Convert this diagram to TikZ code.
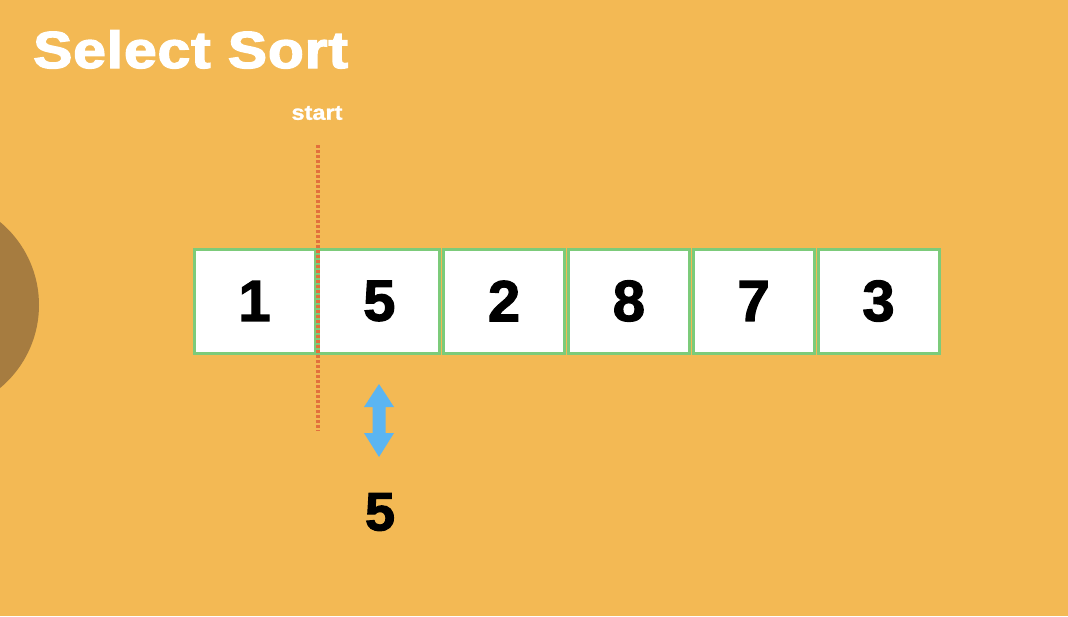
\documentclass[tikz,border=0pt]{standalone}
\usepackage{fontspec}
\usepackage{graphicx}
\setmainfont{Liberation Sans}
\newfontfamily\heavyfont[FakeBold=2]{Liberation Sans Bold}
\newfontfamily\titlefont[FakeBold=2.5,LetterSpace=1.5]{Liberation Sans Bold}
\newfontfamily\semiheavyfont[FakeBold=1.2]{Liberation Sans Bold}
\definecolor{bg}{HTML}{F3B954}
\definecolor{boxgreen}{HTML}{7CCB7A}
\definecolor{dotred}{HTML}{E2703C}
\definecolor{arrowblue}{HTML}{5BB5F2}
\definecolor{blob}{HTML}{A67C40}
\tikzset{
  cell/.style={draw=boxgreen, line width=3pt, fill=white, minimum width=121pt, minimum height=104pt, inner sep=0pt, font=\fontsize{58}{58}\heavyfont},
  titletext/.style={text=white, font=\fontsize{52}{52}\titlefont, inner sep=0pt, anchor=base west},
  smalllabel/.style={text=white, font=\fontsize{21}{21}\semiheavyfont, inner sep=0pt},
}
\begin{document}
\begin{tikzpicture}[x=1pt,y=-1pt]
\useasboundingbox (0,0) rectangle (1068,616);
\fill[bg] (0,0) rectangle (1068,616);
\begin{scope}
\clip (0,0) rectangle (1068,616);
\fill[blob] (-69,305) circle (108);
\end{scope}
\node[titletext] (title) at (33,68) {\scalebox{1.13}[1]{Select Sort}};
\node[cell] (c1) at (254.5,301) {1};
\node[cell] (c2) at (379.3,301) {5};
\node[cell] (c3) at (504.1,301) {2};
\node[cell] (c4) at (628.9,301) {8};
\node[cell] (c5) at (753.7,301) {7};
\node[cell] (c6) at (878.5,301) {3};
\node[smalllabel] (start) at (317,113) {\scalebox{1.12}[1]{start}};
\coordinate (dtop) at (318,145);
\coordinate (dbot) at (318,431);
\draw[dotred, line width=3.2pt, dash pattern=on 3pt off 2pt] (dtop) -- (dbot);
\node[font=\fontsize{54}{54}\heavyfont, inner sep=0pt] (min) at (380,512) {5};
\fill[arrowblue] (379,384) -- (394,407) -- (385.5,407) -- (385.5,433) -- (394,433) -- (379,457)
  -- (364,433) -- (372.5,433) -- (372.5,407) -- (364,407) -- cycle;
\end{tikzpicture}
\end{document}
